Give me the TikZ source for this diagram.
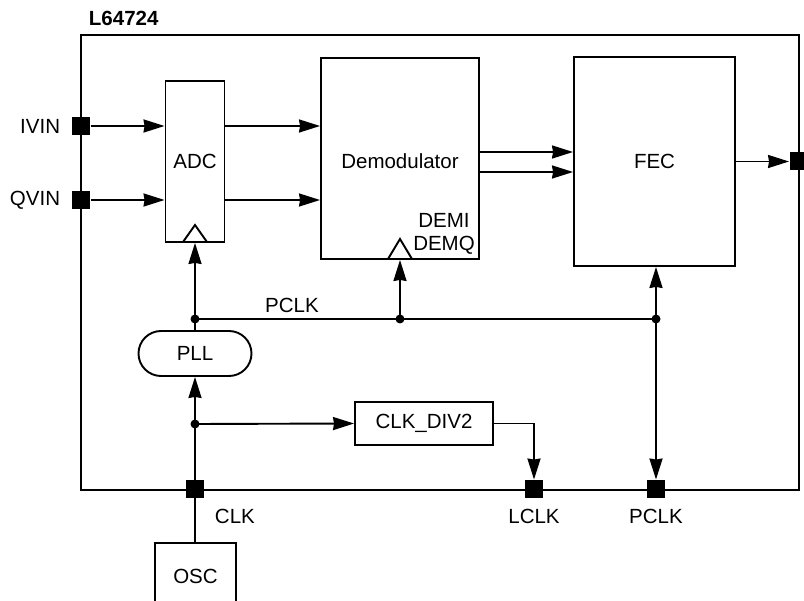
\documentclass[tikz,border=0pt]{standalone}
\usepackage{fontspec}
\setmainfont{Liberation Sans}
\usetikzlibrary{arrows.meta,shapes.misc}
\begin{document}
\begin{tikzpicture}[x=1pt,y=-1pt, line width=1.9pt,
  every node/.style={font=\fontsize{20.5}{23}\selectfont, inner sep=0pt},
  blk/.style={draw, line width=1.9pt},
  pinsq/.style={fill=black, minimum size=18pt, inner sep=0pt},
  dot/.style={circle, fill=black, minimum size=9pt, inner sep=0pt},
  arr/.style={-{Stealth[length=21pt,width=13pt,inset=1pt]}}]
\useasboundingbox (0,0) rectangle (804,601);

% chip outline
\node[blk, minimum width=718pt, minimum height=455pt] (chip) at (440,262.5) {};
\node[anchor=west, font=\fontsize{20.5}{23}\selectfont\bfseries] (title) at (88,18.5) {L64724};

% blocks
\node[blk, minimum width=59pt, minimum height=161pt] (adc) at (195,161.5) {ADC};
\node[blk, minimum width=158pt, minimum height=201pt] (demod) at (400,158.5) {};
\node (demodtxt) at (400,161) {Demodulator};
\node[align=center] (demiq) at (444,233.5) {DEMI\\DEMQ};
\node[blk, minimum width=161pt, minimum height=209pt] (fec) at (654.5,161.5) {FEC};
\node[blk, rounded rectangle, minimum width=113pt, minimum height=45pt] (pll) at (195,353.5) {PLL};
\node[blk, minimum width=138pt, minimum height=43pt] (clkdiv) at (424,423.5) {CLK\_DIV2};

% clock triangles
\draw (183,242) -- (195,225) -- (207,242);
\draw (388,259) -- (400,239) -- (412,259);

% pins
\node[pinsq] (ivin) at (81,126) {};
\node[pinsq] (qvin) at (81,200) {};
\node[pinsq] (outpin) at (799,161.5) {};
\node[pinsq] (clkpin) at (195,489.5) {};
\node[pinsq] (lclkpin) at (534,489.5) {};
\node[pinsq] (pclkpin) at (656,489.5) {};

% pin labels
\node[anchor=east] (ivinl) at (61,126) {IVIN};
\node[anchor=east] (qvinl) at (61,200) {QVIN};
\node[anchor=west] (clkl) at (214,516) {CLK};
\node (lclkl) at (534,516) {LCLK};
\node (pclkl) at (656,516) {PCLK};
\node (pclkbus) at (292,305) {PCLK};

% OSC
\node (osc) at (195.5,576) {OSC};
\draw (155,601) -- (155,543) -- (236,543) -- (236,601);
\coordinate (osctop) at (195,543);

% data path
\draw[arr] (ivin.east) -- (ivin.east -| adc.west);
\draw[arr] (qvin.east) -- (qvin.east -| adc.west);
\draw[arr] (adc.east |- ivin) -- (demod.west |- ivin);
\draw[arr] (adc.east |- qvin) -- (demod.west |- qvin);
\coordinate (ya) at (0,152);
\coordinate (yb) at (0,172);
\draw[arr] (demod.east |- ya) -- (fec.west |- ya);
\draw[arr] (demod.east |- yb) -- (fec.west |- yb);
\draw[arr] (fec.east) -- (outpin.west);

% clock path
\node[dot] (d1) at (195,319) {};
\node[dot] (d2) at (400,319) {};
\node[dot] (d3) at (656,319) {};
\node[dot] (d4) at (195,424) {};
\draw (pll.north) -- (d1.center);
\draw[arr] (d1.center) -- (adc.south);
\draw (d1.center) -- (d3.center);
\draw[arr] (d2.center) -- (demod.south -| d2);
\draw[arr] (d3.center) -- (fec.south -| d3);
\draw[arr] (d3.center) -- (pclkpin.north);
\draw (osctop) -- (clkpin.center) -- (d4.center);
\draw[arr] (d4.center) -- (pll.south);
\draw[arr] (d4.center) -- (clkdiv.west);
\draw[arr] (clkdiv.east) -| (lclkpin.north);
\end{tikzpicture}
\end{document}
